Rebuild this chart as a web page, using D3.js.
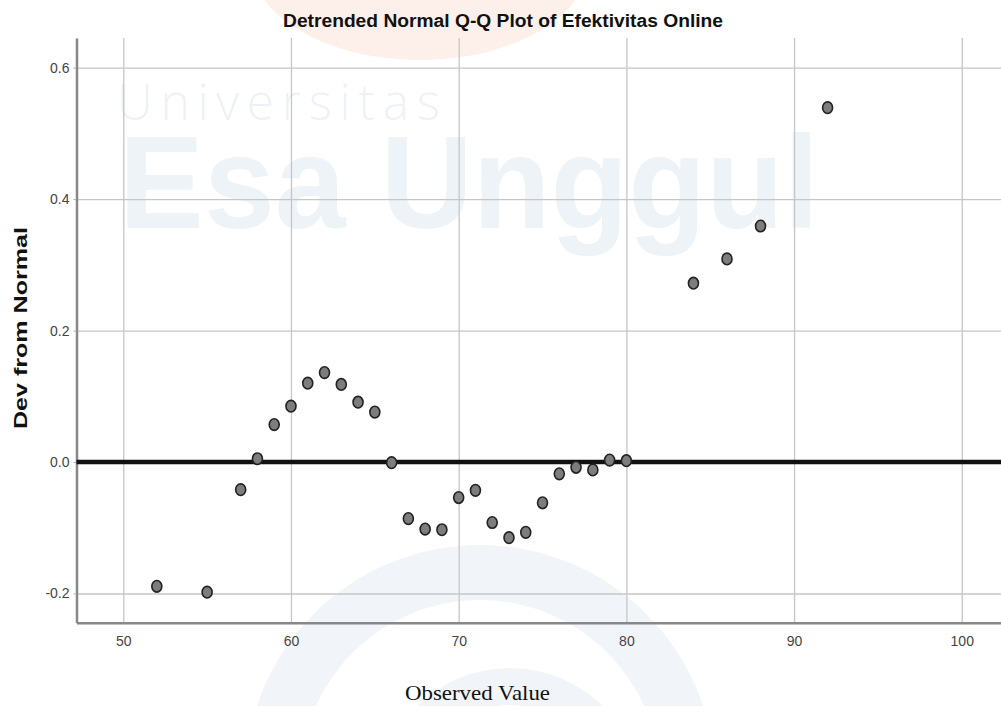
<!DOCTYPE html>
<html>
<head>
<meta charset="utf-8">
<script src="https://cdn.jsdelivr.net/npm/d3@7"></script>
<style>
  html, body { margin: 0; padding: 0; background: #fff; }
  svg { display: block; }
</style>
</head>
<body>
<div id="chart"></div>
<script>
// observed values and their deviation from normal
var observed = [52, 55, 57, 58, 59, 60, 61, 62, 63, 64, 65, 66, 67, 68, 69, 70, 71, 72, 73, 74, 75, 76, 77, 78, 79, 80, 84, 86, 88, 92];
var deviation = [-0.189, -0.198, -0.042, 0.005, 0.057, 0.085, 0.120, 0.136, 0.118, 0.091, 0.076, -0.001, -0.086, -0.102, -0.103, -0.054, -0.043, -0.092, -0.115, -0.107, -0.062, -0.018, -0.008, -0.012, 0.003, 0.002, 0.272, 0.309, 0.359, 0.539];
var xTicks = [50, 60, 70, 80, 90, 100];
var yTicks = [-0.2, 0.0, 0.2, 0.4, 0.6];

(function () {
    var width = 1001, height = 706;
    var left = 76.5, right = 1001, top = 38, bottom = 622.7;

    var svg = d3.select("#chart").append("svg")
        .attr("width", width)
        .attr("height", height);

    // faint watermark in the background
    var wm = svg.append("g").attr("class", "watermark");
    wm.append("ellipse")
        .attr("cx", 420).attr("cy", -40).attr("rx", 170).attr("ry", 100)
        .attr("fill", "#fdefe9");
    var ring = d3.arc().startAngle(-Math.PI / 2).endAngle(Math.PI / 2);
    wm.append("path")
        .attr("transform", "translate(480,780)")
        .attr("d", ring({ innerRadius: 180, outerRadius: 235 }))
        .attr("fill", "#f1f5fa");
    wm.append("path")
        .attr("transform", "translate(510,800)")
        .attr("d", ring({ innerRadius: 95, outerRadius: 132 }))
        .attr("fill", "#f1f5fa");
    wm.append("text")
        .attr("x", 117).attr("y", 120)
        .attr("textLength", 323).attr("lengthAdjust", "spacing")
        .style("font-family", "'Open Sans', sans-serif")
        .style("font-weight", 300)
        .style("font-size", "50px")
        .attr("fill", "#eef1f5")
        .text("Universitas");
    wm.append("text")
        .attr("x", 119).attr("y", 228)
        .attr("textLength", 700).attr("lengthAdjust", "spacingAndGlyphs")
        .style("font-family", "'Liberation Sans', Arial, sans-serif")
        .style("font-weight", "bold")
        .style("font-size", "132px")
        .attr("fill", "#eef3f8")
        .text("Esa Unggul");

    var x = d3.scaleLinear().domain([47.21, 102.34]).range([left, right]);
    var y = d3.scaleLinear().domain([-0.2444, 0.645]).range([bottom, top]);

    // vertical grid
    svg.append("g")
        .attr("transform", "translate(0," + bottom + ")")
        .call(d3.axisBottom(x).tickValues(xTicks).tickSize(-(bottom - top)).tickFormat(""))
        .call(function (g) {
            g.select(".domain").remove();
            g.selectAll("line").attr("stroke", "#c6c6c6").attr("stroke-width", 1.3);
        });

    // horizontal grid
    svg.append("g")
        .attr("transform", "translate(" + left + ",0)")
        .call(d3.axisLeft(y).tickValues(yTicks).tickSize(-(right - left)).tickFormat(""))
        .call(function (g) {
            g.select(".domain").remove();
            g.selectAll("line").attr("stroke", "#c6c6c6").attr("stroke-width", 1.3);
        });

    // y axis with labels (plain hyphen for negatives, as in the original)
    var fmt = d3.format(".1f");
    svg.append("g")
        .attr("transform", "translate(" + left + ",0)")
        .call(d3.axisLeft(y).tickValues(yTicks).tickSize(3).tickPadding(4).tickSizeOuter(0)
            .tickFormat(function (d) { return fmt(d).replace("\u2212", "-"); }))
        .call(function (g) {
            g.select(".domain").attr("stroke", "#888").attr("stroke-width", 2.5);
            g.selectAll("line").attr("stroke", "#aaa");
            g.selectAll("text")
                .attr("fill", "#444")
                .style("font-family", "'Liberation Sans', Arial, sans-serif")
                .style("font-size", "14px");
        });

    // x axis with labels
    svg.append("g")
        .attr("transform", "translate(0," + bottom + ")")
        .call(d3.axisBottom(x).tickValues(xTicks).tickSize(0).tickPadding(13).tickSizeOuter(0))
        .call(function (g) {
            g.select(".domain").attr("stroke", "#888").attr("stroke-width", 2.5);
            g.selectAll("text")
                .attr("fill", "#444")
                .style("font-family", "'Liberation Sans', Arial, sans-serif")
                .style("font-size", "14px");
        });

    // reference line at zero
    svg.append("line")
        .attr("x1", left).attr("x2", right)
        .attr("y1", y(0)).attr("y2", y(0))
        .attr("stroke", "#111")
        .attr("stroke-width", 4.5);

    // points
    svg.append("g").selectAll("ellipse")
        .data(observed)
        .enter().append("ellipse")
        .attr("cx", function (d) { return x(d); })
        .attr("cy", function (d, i) { return y(deviation[i]); })
        .attr("rx", 5)
        .attr("ry", 5.8)
        .attr("fill", "#7d7d7d")
        .attr("stroke", "#222")
        .attr("stroke-width", 1.6);

    // titles
    svg.append("text")
        .attr("x", 503).attr("y", 26.5)
        .attr("text-anchor", "middle")
        .attr("textLength", 440).attr("lengthAdjust", "spacingAndGlyphs")
        .style("font-family", "'Liberation Sans', Arial, sans-serif")
        .style("font-weight", "bold")
        .style("font-size", "18px")
        .attr("fill", "#111")
        .text("Detrended Normal Q-Q Plot of Efektivitas Online");

    svg.append("text")
        .attr("transform", "translate(26.5,328) rotate(-90)")
        .attr("text-anchor", "middle")
        .attr("textLength", 202).attr("lengthAdjust", "spacingAndGlyphs")
        .style("font-family", "'Liberation Sans', Arial, sans-serif")
        .style("font-weight", "bold")
        .style("font-size", "18px")
        .attr("fill", "#111")
        .text("Dev from Normal");

    svg.append("text")
        .attr("x", 477.5).attr("y", 700)
        .attr("text-anchor", "middle")
        .attr("textLength", 145).attr("lengthAdjust", "spacingAndGlyphs")
        .style("font-family", "'Liberation Serif', 'Times New Roman', serif")
        .style("font-size", "21px")
        .attr("fill", "#111")
        .text("Observed Value");
})();
</script>
</body>
</html>
